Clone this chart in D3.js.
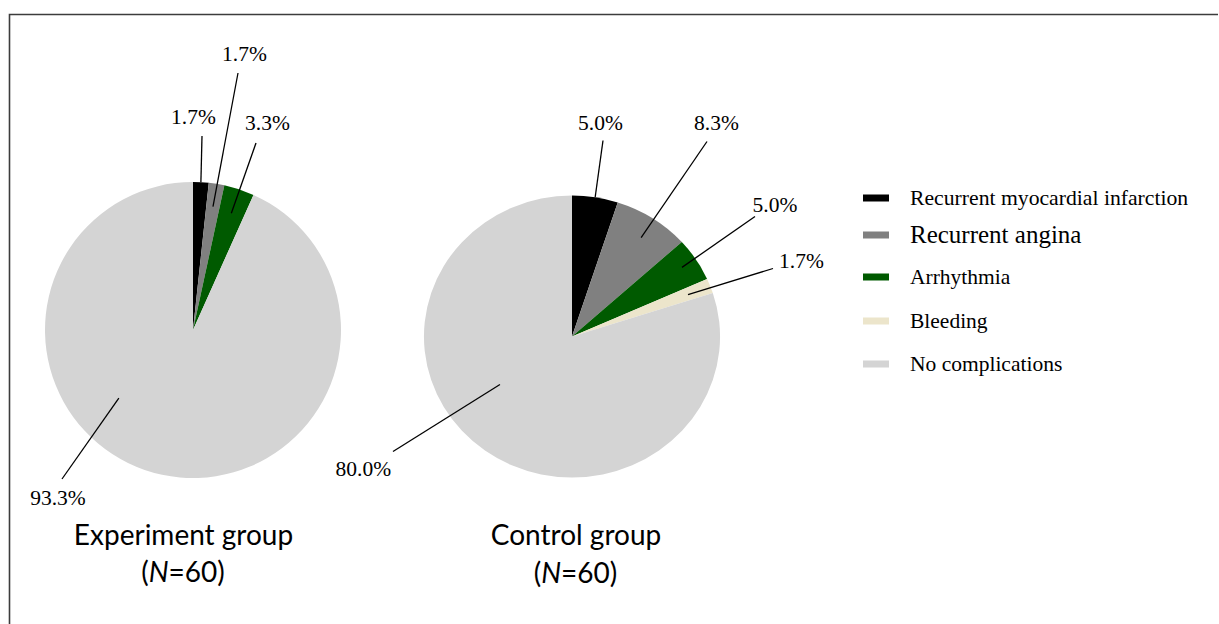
<!DOCTYPE html>
<html>
<head>
<meta charset="utf-8">
<script src="https://cdn.jsdelivr.net/npm/d3@7"></script>
<style>
  html, body { margin: 0; padding: 0; background: #fff; }
  svg { display: block; }
</style>
</head>
<body>
<svg id="chart" width="1219" height="624"></svg>
<script>
// Complication categories and share of patients (%) per group
const categories = [
  "Recurrent myocardial infarction",
  "Recurrent angina",
  "Arrhythmia",
  "Bleeding",
  "No complications"
];
const experimentValues = [1.7, 1.7, 3.3, 0, 93.3];
const controlValues = [5.0, 8.3, 5.0, 1.7, 80.0];
const groupNames = ["Experiment group", "Control group"];
const groupSizes = [60, 60];

const colors = ["#000000", "#808080", "#005a00", "#ece5cb", "#d4d4d4"];

const svg = d3.select("#chart");

// frame (top and left edges)
svg.append("path")
  .attr("d", "M9.5,624 L9.5,14.5 L1218,14.5")
  .attr("fill", "none")
  .attr("stroke", "#3c3c3c")
  .attr("stroke-width", 1.6);

const color = d3.scaleOrdinal().domain(categories).range(colors);

// Leader-line placement per slice: inner point (angle shift in degrees, radius
// fraction) and outer end / label anchor as offsets from the pie centre.
const groups = [
  {
    values: experimentValues, cx: 193, cy: 330, r: 148, sx: 1,
    labels: [
      { da: 0,  rf: 1.0,  end: [9, -194],   txt: [0.5, -206] },
      { da: 0,  rf: 0.845, end: [45, -257], txt: [51.5, -269] },
      { da: 0,  rf: 0.83, end: [63, -187],  txt: [74.5, -200] },
      null,
      { da: 35.4, rf: 0.68, end: [-131, 149], txt: [-135, 175] }
    ],
    title: [-9.5, 215], sub: [-10, 252]
  },
  {
    values: controlValues, cx: 572, cy: 336.5, r: 141, sx: 1.05,
    labels: [
      { da: 0,    rf: 1.0,   end: [31, -196],  txt: [28.5, -206.5] },
      { da: 0.7,  rf: 0.843, end: [135, -195], txt: [144.5, -206.5] },
      { da: -0.3, rf: 0.89,  end: [183, -120], txt: [203, -124.5] },
      { da: 0.3,  rf: 0.838, end: [201, -68],  txt: [229.5, -68.5] },
      { da: 19,   rf: 0.594, end: [-179, 115], txt: [-208.7, 139.5] }
    ],
    title: [4, 208.5], sub: [3.5, 246]
  }
];

const pie = d3.pie().sort(null).value(d => d.value);

groups.forEach((g, gi) => {
  const data = categories.map((c, i) => ({ category: c, value: g.values[i], idx: i }));
  const arcs = pie(data);
  const arc = d3.arc().innerRadius(0).outerRadius(g.r);
  const G = svg.append("g").attr("transform", `translate(${g.cx},${g.cy})`);

  G.append("g")
    .attr("transform", `scale(${g.sx},1)`)
    .selectAll("path.slice")
    .data(arcs.filter(a => a.data.value > 0))
    .join("path")
    .attr("class", "slice")
    .attr("d", arc)
    .attr("fill", d => color(d.data.category));

  // leader lines and percentage labels
  arcs.forEach(a => {
    const lab = g.labels[a.data.idx];
    if (!lab || a.data.value <= 0) return;
    const mid = (a.startAngle + a.endAngle) / 2 + lab.da * Math.PI / 180;
    const rr = g.r * lab.rf;
    const x0 = g.sx * rr * Math.sin(mid), y0 = -rr * Math.cos(mid);
    G.append("line")
      .attr("x1", x0).attr("y1", y0)
      .attr("x2", lab.end[0]).attr("y2", lab.end[1])
      .attr("stroke", "#000").attr("stroke-width", 1.3);
    G.append("text")
      .attr("x", lab.txt[0]).attr("y", lab.txt[1])
      .attr("text-anchor", "middle")
      .attr("font-family", "'Liberation Serif', 'Times New Roman', serif")
      .attr("font-size", 21.5)
      .attr("fill", "#000")
      .text(d3.format(".1f")(a.data.value) + "%");
  });

  // group title
  G.append("text")
    .attr("x", g.title[0]).attr("y", g.title[1])
    .attr("text-anchor", "middle")
    .attr("font-family", "Lato, 'Open Sans', sans-serif")
    .attr("font-size", 28)
    .attr("fill", "#000")
    .text(groupNames[gi]);
  const sub = G.append("text")
    .attr("x", g.sub[0]).attr("y", g.sub[1])
    .attr("text-anchor", "middle")
    .attr("font-family", "Lato, 'Open Sans', sans-serif")
    .attr("font-size", 28)
    .attr("fill", "#000");
  sub.append("tspan").text("(");
  sub.append("tspan").attr("font-style", "italic").text("N");
  sub.append("tspan").text("=" + groupSizes[gi] + ")");
});

// legend
const legendRows = [198, 235, 277, 321, 364];
const legendSizes = [21.7, 25, 21.5, 21.5, 21.5];
const legend = svg.append("g");
categories.forEach((c, i) => {
  legend.append("rect")
    .attr("x", 863).attr("y", legendRows[i] - 3.5)
    .attr("width", 26).attr("height", 7)
    .attr("fill", color(c));
  legend.append("text")
    .attr("x", 910).attr("y", legendRows[i] + legendSizes[i] * 0.33)
    .attr("font-family", "'Liberation Serif', 'Times New Roman', serif")
    .attr("font-size", legendSizes[i])
    .attr("fill", "#000")
    .text(c);
});
</script>
</body>
</html>
